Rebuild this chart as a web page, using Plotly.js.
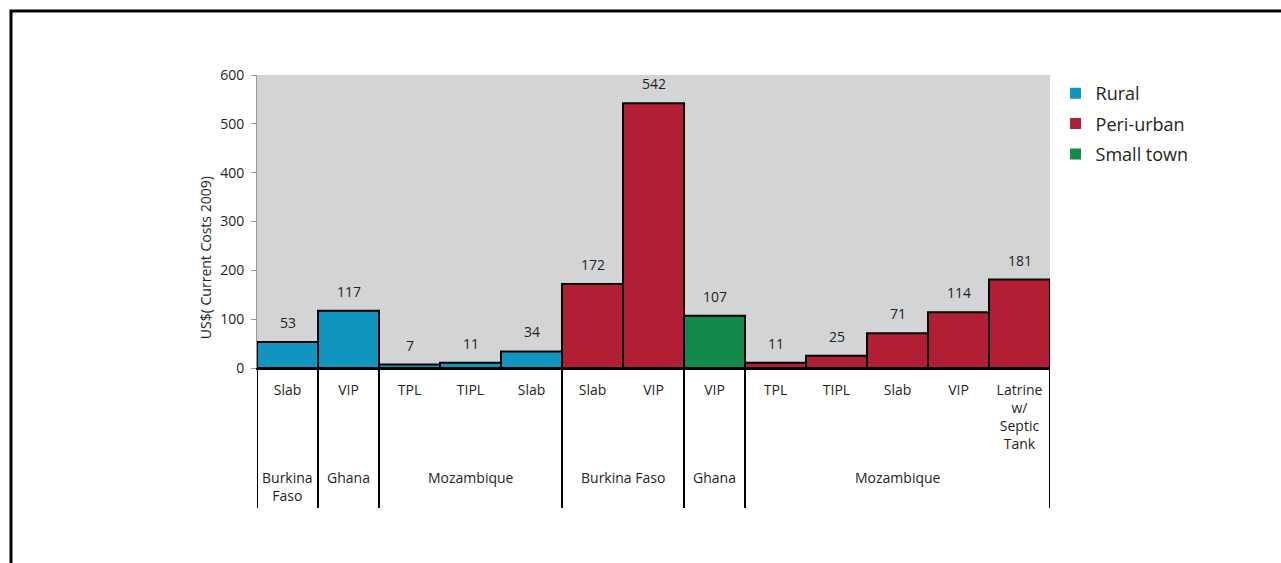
<!DOCTYPE html>
<html>
<head>
<meta charset="utf-8">
<script src="https://cdn.plot.ly/plotly-3.0.1.min.js"></script>
<style>html,body{margin:0;padding:0;background:#fff;}#chart{width:1281px;height:563px;}</style>
</head>
<body>
<div id="chart"></div>
<script>
// ---- data ----
var categories = ['Slab','VIP','TPL','TIPL','Slab','Slab','VIP','VIP','TPL','TIPL','Slab','VIP','Latrine<br>w/<br>Septic<br>Tank'];
var values = [53,117,7,11,34,172,542,107,11,25,71,114,181];
var settings = ['Rural','Rural','Rural','Rural','Rural','Peri-urban','Peri-urban','Small town','Peri-urban','Peri-urban','Peri-urban','Peri-urban','Peri-urban'];
var settingNames = ['Rural','Peri-urban','Small town'];
var settingColors = ['#1194bd','#b21f35','#138a4a'];
var groupLabels = ['Burkina<br>Faso','Ghana','Mozambique','Burkina Faso','Ghana','Mozambique'];
var groupStart = [0,1,2,5,7,8];
var groupEnd = [0,1,4,6,7,12];
var yTicks = [0,100,200,300,400,500,600];
var yTitle = 'US$( Current Costs 2009)';

var FONT = 'Open Sans, sans-serif';
var TXT = '#231f20';
var idx = categories.map(function(_, i){ return i; });

var traces = [];
settingNames.forEach(function(name, k){
  var xs = [], ys = [];
  idx.forEach(function(i){ if (settings[i] === name){ xs.push(i); ys.push(values[i]); } });
  traces.push({
    type: 'bar', x: xs, y: ys, width: 1, name: name, showlegend: false,
    marker: {color: settingColors[k], line: {color: '#000', width: 2}},
    hoverinfo: 'y'
  });
});
// legend-only entries (plain square swatches, no outline)
settingNames.forEach(function(name, k){
  traces.push({
    type: 'scatter', mode: 'markers', x: [null], y: [null], name: name, legendgroup: name,
    showlegend: true, cliponaxis: true,
    marker: {symbol: 'square', size: 11, color: settingColors[k], line: {width: 0}}
  });
});

var annotations = [];
idx.forEach(function(i){
  annotations.push({xref:'x', yref:'y', x:i, y:values[i], text:String(values[i]), showarrow:false,
    yanchor:'bottom', yshift:8, font:{family:FONT, size:14, color:TXT}});
});
groupLabels.forEach(function(g, j){
  annotations.push({xref:'x', yref:'paper', x:(groupStart[j]+groupEnd[j])/2, y:-0.335, text:g, showarrow:false,
    yanchor:'top', font:{family:FONT, size:14, color:TXT}});
});
annotations.push({xref:'paper', yref:'paper', x:0, y:0.375, xshift:-52, text:yTitle, textangle:-90, showarrow:false,
  xanchor:'center', yanchor:'middle', font:{family:FONT, size:14, color:TXT}});

var shapes = [];
var bounds = [groupStart[0]-0.5];
groupEnd.forEach(function(e){ bounds.push(e+0.5); });
bounds.forEach(function(b){
  shapes.push({type:'line', xref:'x', yref:'paper', x0:b, x1:b, y0:0, y1:-0.478, line:{color:'#000', width:2}});
});
// outer frame
shapes.push({type:'rect', xref:'paper', yref:'paper', x0:-0.3102, x1:1.31, y0:-0.72, y1:1.2184, line:{color:'#000', width:3}, fillcolor:'rgba(0,0,0,0)'});

var layout = {
  width: 1281, height: 563,
  margin: {l:257, r:231, t:75, b:195},
  paper_bgcolor: '#fff', plot_bgcolor: '#d3d4d6',
  barmode: 'overlay', bargap: 0,
  font: {family: FONT, size: 14, color: TXT},
  showlegend: true,
  legend: {x:1.007, y:1.0, xanchor:'left', yanchor:'top', font:{family:FONT, size:18, color:TXT}, tracegroupgap:4, traceorder:'grouped', bgcolor:'rgba(0,0,0,0)'},
  xaxis: {range:[-0.5, categories.length-0.5], tickmode:'array', tickvals:idx, ticktext:categories,
    showgrid:false, zeroline:false, showline:true, linecolor:'#000', linewidth:2, ticks:'', ticklabelstandoff:8,
    tickfont:{family:FONT, size:14, color:TXT}, fixedrange:true},
  yaxis: {range:[0,600], tickmode:'array', tickvals:yTicks, showgrid:false, zeroline:false,
    showline:true, linecolor:'#9a9a9a', linewidth:1, ticks:'outside', ticklen:5, tickcolor:'#9a9a9a', ticklabelstandoff:4,
    tickfont:{family:FONT, size:14, color:TXT}, fixedrange:true},
  annotations: annotations, shapes: shapes
};

Plotly.newPlot('chart', traces, layout, {displayModeBar:false, staticPlot:true});
</script>
</body>
</html>
